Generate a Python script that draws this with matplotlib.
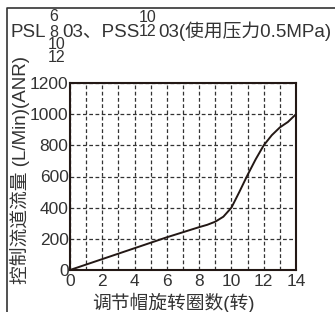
import matplotlib
matplotlib.use("Agg")
import matplotlib.pyplot as plt
from matplotlib import font_manager
from matplotlib.lines import Line2D

# ---- data ----
turns = [0, 2, 4, 6, 8, 8.5, 9, 9.5, 10, 10.5, 11, 11.5, 12, 12.5, 13, 13.5, 14]
flow = [0, 70, 140, 210, 275, 290, 310, 342, 400, 503, 610, 710, 800, 865, 915, 950, 1000]
x_ticks = [0, 2, 4, 6, 8, 10, 12, 14]
y_ticks = [0, 200, 400, 600, 800, 1000, 1200]
title_main = "PSL"
title_mid = "03、PSS"
title_end = "03(使用压力0.5MPa)"
psl_stack = ["6", "8", "10", "12"]
pss_stack = ["10", "12"]
xlabel = "调节帽旋转圈数(转)"
ylabel = "控制流道流量 (L/Min)(ANR)"

names = {f.name for f in font_manager.fontManager.ttflist}
latin = "Liberation Sans Narrow" if "Liberation Sans Narrow" in names else "Liberation Sans"
FAM = [latin, "Noto Sans CJK SC", "DejaVu Sans"]
plt.rcParams['font.family'] = FAM

W, H = 335, 312
fig = plt.figure(figsize=(W / 100, H / 100), dpi=100)
TXT = "#333333"

def fx(px):
    return px / W

def fy(py):
    return 1 - py / H

ax = fig.add_axes([fx(70), fy(270), (296 - 70) / W, (270 - 83) / H])
ax.plot(turns, flow, color="#231815", lw=1.4)
ax.set_xlim(0, 14)
ax.set_ylim(0, 1200)
ax.set_xticks(x_ticks)
ax.set_yticks(y_ticks)
ax.set_xticks(range(0, 15), minor=True)
ax.tick_params(which="both", length=0, colors=TXT, labelsize=12.5)
ax.tick_params(axis="y", pad=1)
ax.tick_params(axis="x", pad=3)
ax.grid(True, which="both", axis="x", ls=(0, (3, 2)), color="#333333", lw=0.9)
ax.grid(True, which="major", axis="y", ls=(0, (3, 2)), color="#333333", lw=0.9)
for s in ax.spines.values():
    s.set_linewidth(1.5)
    s.set_color("#231815")

fig.text(fx(173), fy(313), xlabel, ha="center", va="bottom", fontsize=13.5, color=TXT)
fig.text(fx(20), fy(170), ylabel, ha="center", va="center", rotation=90, fontsize=13.5, color=TXT)

# title with stacked numbers
fs = 13.5
sfs = 11.5
fig.text(fx(11), fy(37), title_main, ha="left", va="baseline", fontsize=fs, color=TXT)
psl_base = [21, 37, 49, 62]
psl_x = [54, 54, 57, 57]
for s, b, xx in zip(psl_stack, psl_base, psl_x):
    fig.text(fx(xx), fy(b), s, ha="center", va="baseline", fontsize=sfs, color=TXT)
fig.text(fx(62), fy(37), title_mid, ha="left", va="baseline", fontsize=fs, color=TXT)
pss_base = [22, 36]
for s, b in zip(pss_stack, pss_base):
    fig.text(fx(148), fy(b), s, ha="center", va="baseline", fontsize=sfs, color=TXT)
fig.text(fx(158), fy(37), title_end, ha="left", va="baseline", fontsize=fs, color=TXT)

# frame
fig.add_artist(Line2D([fx(7), fx(7), 1.01], [-0.01, fy(8), fy(8)], color="#333333", lw=1.2,
                      transform=fig.transFigure))

fig.savefig("out.png", dpi=100)
